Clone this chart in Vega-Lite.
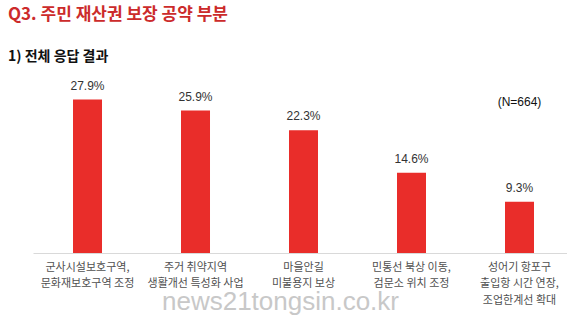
{
  "$schema": "https://vega.github.io/schema/vega-lite/v6.json",
  "autosize": {"type": "none"},
  "padding": {"left": 33, "top": 88, "right": 0, "bottom": 66},
  "width": 534,
  "height": 165,
  "background": "white",
  "config": {"view": {"stroke": null}},
  "title": {
    "text": "Q3. 주민 재산권 보장 공약 부분",
    "subtitle": "\u00a0\u00a0 1) 전체 응답 결과",
    "anchor": "start",
    "frame": "group",
    "dx": -25,
    "offset": 15,
    "font": "Noto Sans CJK KR",
    "fontSize": 17,
    "fontWeight": "bold",
    "color": "#cc2b2b",
    "subtitleFont": "Noto Sans CJK KR",
    "subtitleFontSize": 14,
    "subtitleFontWeight": "bold",
    "subtitleColor": "#111111",
    "subtitlePadding": 26
  },
  "data": {
    "values": [
      {"item": "군사시설보호구역,\n문화재보호구역 조정", "pct": 27.9},
      {"item": "주거 취약지역\n생활개선 특성화 사업", "pct": 25.9},
      {"item": "마을안길\n미불용지 보상", "pct": 22.3},
      {"item": "민통선 북상 이동,\n검문소 위치 조정", "pct": 14.6},
      {"item": "성어기 항포구\n출입항 시간 연장,\n조업한계선 확대", "pct": 9.3}
    ]
  },
  "encoding": {
    "x": {
      "field": "item",
      "type": "nominal",
      "sort": null,
      "scale": {"paddingInner": 0.7315, "paddingOuter": 0.338, "align": 0.548},
      "axis": {
        "title": "news21tongsin.co.kr",
        "titleFont": "Liberation Sans",
        "titleFontSize": 26,
        "titleFontWeight": "normal",
        "titleColor": "#c8c8c8",
        "titleX": 247,
        "titleY": 48,
        "titleAlign": "center",
        "titleBaseline": "middle",
        "labelExpr": "split(datum.label, '\\n')",
        "labelAngle": 0,
        "labelFont": "Noto Sans CJK KR",
        "labelFontSize": 11,
        "labelColor": "#505050",
        "labelLineHeight": 16.5,
        "labelPadding": 8,
        "labelLimit": 200,
        "ticks": false,
        "domainColor": "#d9d9d9",
        "domainWidth": 1
      }
    },
    "y": {
      "field": "pct",
      "type": "quantitative",
      "scale": {"domain": [0, 30], "nice": false},
      "axis": null
    }
  },
  "layer": [
    {"mark": {"type": "bar", "color": "#e92d2a"}},
    {
      "mark": {"type": "text", "baseline": "bottom", "dy": -7, "font": "Liberation Sans", "fontSize": 12, "color": "#333333", "text": {"expr": "format(datum.pct, '.1f') + '%'"}}
    },
    {
      "data": {"values": [{"item": "성어기 항포구\n출입항 시간 연장,\n조업한계선 확대", "pos": 27.5, "note": "(N=664)"}]},
      "mark": {"type": "text", "baseline": "middle", "font": "Liberation Sans", "fontSize": 12, "color": "#111111"},
      "encoding": {
        "y": {"field": "pos", "type": "quantitative"},
        "text": {"field": "note"}
      }
    }
  ]
}
